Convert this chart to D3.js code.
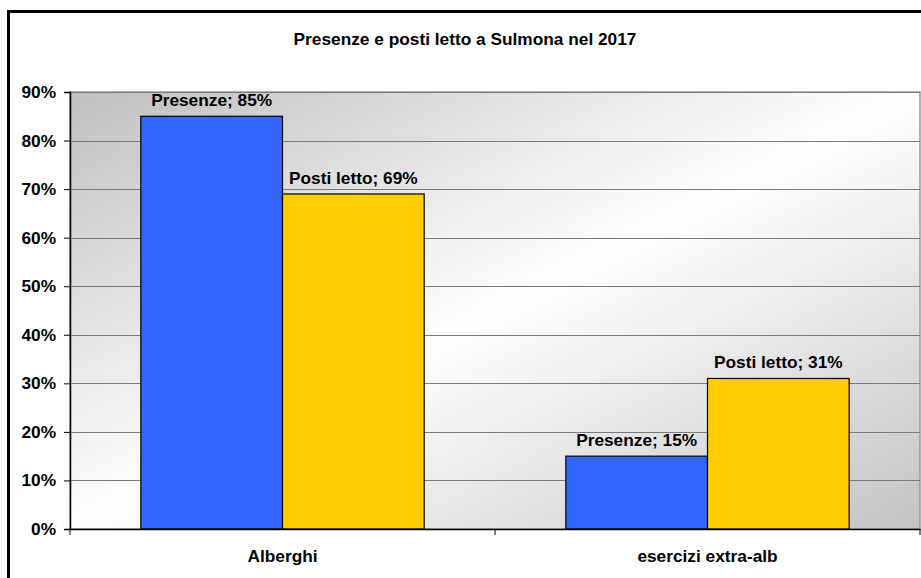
<!DOCTYPE html>
<html>
<head>
<meta charset="utf-8">
<script src="https://cdn.jsdelivr.net/npm/d3@7"></script>
<style>
  body { margin: 0; background: #fff; }
  svg { display: block; font-family: Arial, "Liberation Sans", sans-serif; }
</style>
</head>
<body>
<div id="chart"></div>
<script>
// Data
const categories = ['Alberghi', 'esercizi extra-alb']
const seriesNames = ['Presenze', 'Posti letto']
const presenze = [0.85, 0.15]
const postiLetto = [0.69, 0.31]
const yTicks = [0, 0.1, 0.2, 0.3, 0.4, 0.5, 0.6, 0.7, 0.8, 0.9]
const colors = ['#3366ff', '#ffcc00']

const width = 921
const height = 578
const plot = { left: 70, right: 920, top: 92, bottom: 529 }
const fontSize = 17.3

const svg = d3.select('#chart').append('svg')
  .attr('width', width)
  .attr('height', height)

// background gradient of plot area
const defs = svg.append('defs')
const grad = defs.append('linearGradient')
  .attr('id', 'bg')
  .attr('x1', '0%').attr('y1', '0%')
  .attr('x2', '100%').attr('y2', '100%')
grad.append('stop').attr('offset', '0%').attr('stop-color', '#bfbfbf')
grad.append('stop').attr('offset', '50%').attr('stop-color', '#ffffff')
grad.append('stop').attr('offset', '100%').attr('stop-color', '#c3c3c3')

// outer frame
svg.append('rect')
  .attr('x', 8.5).attr('y', 11.5)
  .attr('width', 940).attr('height', 600)
  .attr('fill', 'none')
  .attr('stroke', '#000')
  .attr('stroke-width', 3)

svg.append('text')
  .attr('x', 465).attr('y', 45)
  .attr('text-anchor', 'middle')
  .attr('font-size', fontSize)
  .attr('font-weight', 'bold')
  .text('Presenze e posti letto a Sulmona nel 2017')

// scales
const x0 = d3.scaleBand()
  .domain(categories)
  .range([plot.left, plot.right])
const x1 = d3.scaleBand()
  .domain(seriesNames)
  .range([0, x0.bandwidth()])
  .paddingOuter(0.5)
const y = d3.scaleLinear()
  .domain([0, 0.9])
  .range([plot.bottom, plot.top])

svg.append('rect')
  .attr('x', plot.left).attr('y', plot.top)
  .attr('width', plot.right - plot.left)
  .attr('height', plot.bottom - plot.top)
  .attr('fill', 'url(#bg)')
  .attr('stroke', '#999')
  .attr('stroke-width', 1.5)

// grid
svg.append('g')
  .selectAll('line')
  .data(yTicks.slice(1))
  .enter().append('line')
    .attr('x1', plot.left).attr('x2', plot.right)
    .attr('y1', d => Math.round(y(d)) + 0.5)
    .attr('y2', d => Math.round(y(d)) + 0.5)
    .attr('stroke', '#7a7a7a')
    .attr('stroke-width', 1)

// bars
const rows = categories.map((c, i) => ({
  cat: c,
  vals: [
    { name: seriesNames[0], v: presenze[i], color: colors[0] },
    { name: seriesNames[1], v: postiLetto[i], color: colors[1] }
  ]
}))

const groups = svg.selectAll('.group')
  .data(rows)
  .enter().append('g')
    .attr('class', 'group')
    .attr('transform', d => `translate(${x0(d.cat)}, 0)`)

groups.selectAll('rect')
  .data(d => d.vals)
  .enter().append('rect')
    .attr('x', d => x1(d.name))
    .attr('y', d => y(d.v))
    .attr('width', x1.bandwidth())
    .attr('height', d => plot.bottom - y(d.v))
    .attr('fill', d => d.color)
    .attr('stroke', '#000')
    .attr('stroke-width', 1.2)

groups.selectAll('text')
  .data(d => d.vals)
  .enter().append('text')
    .attr('x', d => x1(d.name) + x1.bandwidth() / 2)
    .attr('y', d => y(d.v) - 10)
    .attr('text-anchor', 'middle')
    .attr('font-size', fontSize)
    .attr('font-weight', 'bold')
    .text(d => `${d.name}; ${Math.round(d.v * 100)}%`)

// y axis
const yAxis = d3.axisLeft(y)
  .tickValues(yTicks)
  .tickFormat(d3.format('.0%'))
  .tickSize(6)
  .tickPadding(8)
const gy = svg.append('g')
  .attr('transform', `translate(${plot.left}, 0)`)
  .call(yAxis)
gy.selectAll('line').attr('stroke', '#000')
gy.select('.domain').attr('stroke', '#000').attr('stroke-width', 1.5)
gy.selectAll('text')
  .attr('font-size', fontSize)
  .attr('font-weight', 'bold')
  .attr('font-family', 'Arial, "Liberation Sans", sans-serif')
  .attr('fill', '#000')

// x axis
const xAxis = d3.axisBottom(x0).tickSize(0).tickPadding(21)
const gx = svg.append('g')
  .attr('transform', `translate(0, ${plot.bottom})`)
  .call(xAxis)
gx.select('.domain').attr('stroke', '#000').attr('stroke-width', 1.5)
gx.selectAll('text')
  .attr('font-size', fontSize)
  .attr('font-weight', 'bold')
  .attr('font-family', 'Arial, "Liberation Sans", sans-serif')
  .attr('fill', '#000')

// tick marks at category boundaries
const bounds = categories.map(c => x0(c)).concat([plot.right])
gx.selectAll('.bound')
  .data(bounds)
  .enter().append('line')
    .attr('class', 'bound')
    .attr('x1', d => d).attr('x2', d => d)
    .attr('y1', 0).attr('y2', 6)
    .attr('stroke', '#000')
</script>
</body>
</html>
